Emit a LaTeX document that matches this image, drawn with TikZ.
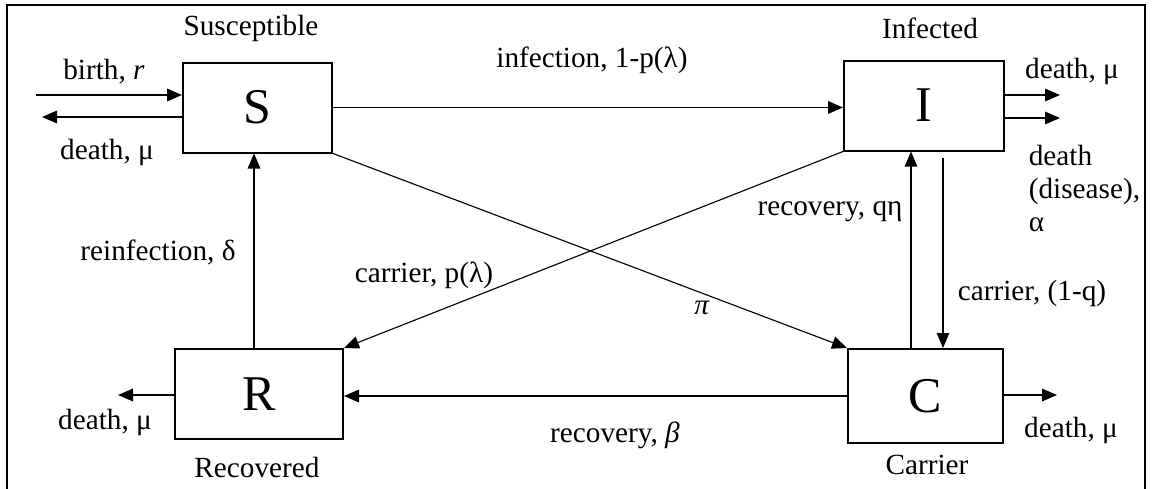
\documentclass[tikz,border=0pt]{standalone}
\usepackage{fontspec}
\setmainfont{Liberation Serif}
\usetikzlibrary{arrows.meta}

\begin{document}
\begin{tikzpicture}[
    x=0.4pt, y=-0.4pt,
    every node/.style={font=\fontsize{11.7}{13.2}\selectfont},
    box/.style={rectangle, draw, line width=0.8pt, minimum height=36pt,
                inner sep=0pt, font=\fontsize{20}{24}\selectfont},
    e/.style={line width=0.7pt, -{Triangle[length=6pt, width=5pt]}},
    ed/.style={e, line width=0.45pt},
  ]
  \useasboundingbox (0,0) rectangle (1152,488);
  \draw[line width=0.8pt] (7,492) -- (7,5) -- (1145,5) -- (1145,492);
  % compartments
  \node[box, minimum width=59.6pt] (S) at (257.5,107.5) {S};
  \node[box, minimum width=64pt] (I) at (924,105.5) {I};
  \node[box, minimum width=67.2pt] (R) at (259,394) {R};
  \node[box, minimum width=62pt, minimum height=37.6pt] (C) at (925.5,396) {C};
  \node (tS) at (251,28) {Susceptible};
  \node (tI) at (930,28) {Infected};
  \node (tR) at (257,467) {Recovered};
  \node (tC) at (927,465) {Carrier};
  % free ends
  \coordinate (bin) at (36,95);
  \coordinate (sout) at (42,117);
  \coordinate (iout1) at (1060,95);
  \coordinate (iout2) at (1060,118);
  \coordinate (rout) at (118,395);
  \coordinate (cout) at (1057,395);
  % flows
  \draw[e] (bin) -- (bin -| S.west);
  \draw[e] (sout -| S.west) -- (sout);
  \draw[e] (S.east) -- (S.east -| I.west);
  \draw[e] (iout1 -| I.east) -- (iout1);
  \draw[e] (iout2 -| I.east) -- (iout2);
  \draw[ed] ([xshift=-5.8pt]C.north) -- ([xshift=-5.8pt]C.north |- I.south);
  \draw[ed, shorten <=2.5pt] ([xshift=7.6pt]I.south) -- ([xshift=7.6pt]I.south |- C.north);
  \draw[e] (C.west) -- (C.west -| R.east);
  \draw[e] (cout -| C.east) -- (cout);
  \draw[e] (rout -| R.west) -- (rout);
  \draw[ed] ([xshift=-2pt]R.north) -- ([xshift=-2pt]R.north |- S.south);
  \draw[ed] (S.south east) -- (C.north west);
  \draw[ed] (I.south west) -- (R.north east);
  % rates
  \node (lbirth) at (104,72) {birth, \textit{r}};
  \node (lsdeath) at (107,152) {death, μ};
  \node (linf) at (592,60) {infection, 1-p(λ)};
  \node (lideath) at (1072,71) {death, μ};
  \node[align=left, anchor=west] (lidis) at (1020,188) {death\\(disease),\\α};
  \node (lrec) at (830,212) {recovery, qη};
  \node (lcar) at (1032,293) {carrier, (1-q)};
  \node (lcarp) at (424,275) {carrier, p(λ)};
  \node (lpi) at (702,308) {\textit{π}};
  \node (lrein) at (158,252) {reinfection, δ};
  \node (lrecb) at (615,435) {recovery, \textit{β}};
  \node (lrdeath) at (105,422) {death, μ};
  \node (lcdeath) at (1071,430) {death, μ};
\end{tikzpicture}
\end{document}
